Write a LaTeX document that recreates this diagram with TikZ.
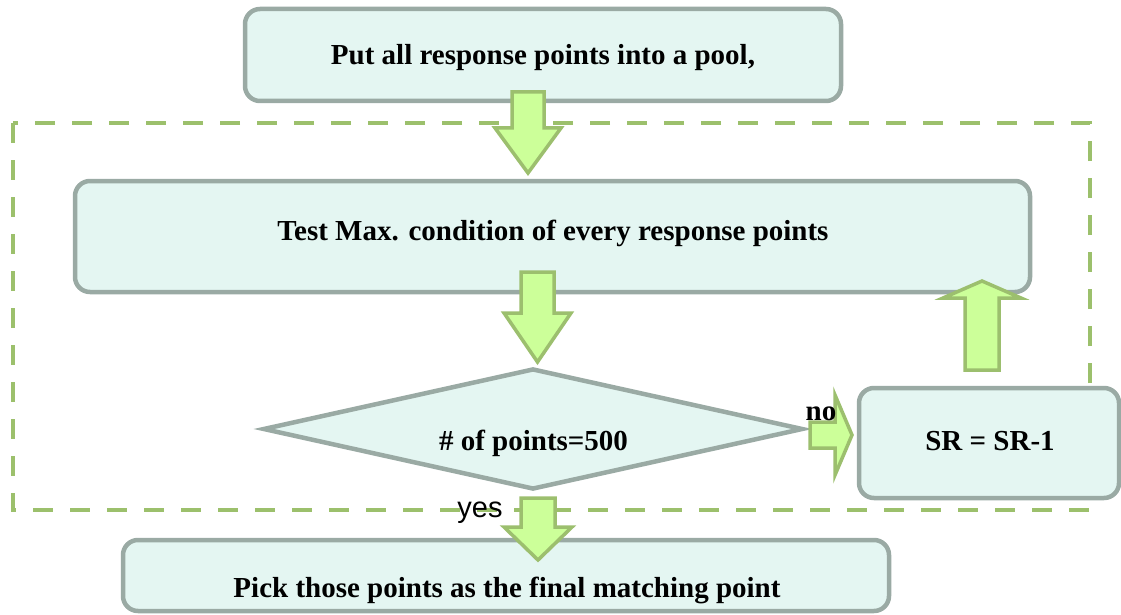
\documentclass[tikz,border=0pt]{standalone}
\usepackage{fontspec}
\setmainfont{Liberation Serif}
\newfontfamily\labelsans{Liberation Sans}
\usetikzlibrary{shapes.geometric}

\definecolor{boxline}{HTML}{9AAAA4}
\definecolor{boxfill}{HTML}{E4F6F2}
\definecolor{arrline}{HTML}{9CBF6E}
\definecolor{arrfill}{HTML}{CCFF99}
\definecolor{frameline}{HTML}{9CC06C}

% block arrow: #1 start, #2 direction angle, #3 length, #4 head length,
% #5 shaft half-width, #6 head half-width
\newcommand{\blockarrow}[6]{%
  \draw[barrow, shift={#1}, rotate=#2]
    (0,-#5) -- ({#3-#4},-#5) -- ({#3-#4},-#6) -- (#3,0)
    -- ({#3-#4},#6) -- ({#3-#4},#5) -- (0,#5) -- cycle;}

\begin{document}
\begin{tikzpicture}[x=1pt, y=-1pt,
  stepbox/.style={draw=boxline, fill=boxfill, line width=4.5pt,
    rounded corners=15pt, inner sep=0pt},
  decision/.style={draw=boxline, fill=boxfill, line width=4.5pt,
    shape=diamond, inner sep=0pt},
  barrow/.style={draw=arrline, fill=arrfill, line width=3.5pt, line join=miter},
  frame/.style={draw=frameline, line width=4.5pt, dash pattern=on 20pt off 17pt},
  txt/.style={font=\fontsize{29}{34}\selectfont\bfseries, anchor=base, inner sep=0pt},
  lbl/.style={font=\fontsize{29}{34}\selectfont\labelsans, anchor=base, inner sep=0pt}]

\useasboundingbox (0,0) rectangle (1121,615);

% dashed loop frame
\draw[frame] (13,123) rectangle (1090,510);

% boxes
\node[stepbox, minimum width=596pt, minimum height=92pt] (pool) at (543,55) {};
\node[stepbox, minimum width=955pt, minimum height=111pt] (test) at (552.5,236.5) {};
\node[decision, minimum width=540pt, minimum height=121pt] (count) at (533,429) {};
\node[stepbox, minimum width=260pt, minimum height=110pt] (sr) at (989,443) {};
\node[stepbox, minimum width=766pt, minimum height=71pt] (pick) at (506,575.5) {};

% connector anchor points
\coordinate (a1) at (528,92);
\coordinate (a2) at (537.5,272);
\coordinate (a3) at (810,435);
\coordinate (a4) at (982,370);
\coordinate (a5) at (538,498);

% block arrows
\blockarrow{(a1)}{-90}{81}{45}{16}{33}
\blockarrow{(a2)}{-90}{90}{49}{16.5}{33.5}
\blockarrow{(a3)}{0}{42}{17}{13}{40}
\blockarrow{(a4)}{90}{89}{17}{17}{39}
\blockarrow{(a5)}{-90}{62}{33}{17}{34}

% texts
\node[txt] (t1) at (543,65) {Put all response points into a pool,};
\node[txt] (t2) at (553,240) {Test Max. condition of every response points};
\node[txt] (t3) at (533.5,450) {\# of points=500};
\node[txt] (t4) at (990,450) {SR = SR-1};
\node[txt] (t5) at (507,597) {Pick those points as the final matching point};
\node[txt] (tno) at (821,420) {no};
\node[lbl] (tyes) at (480,517) {yes};
\end{tikzpicture}
\end{document}
